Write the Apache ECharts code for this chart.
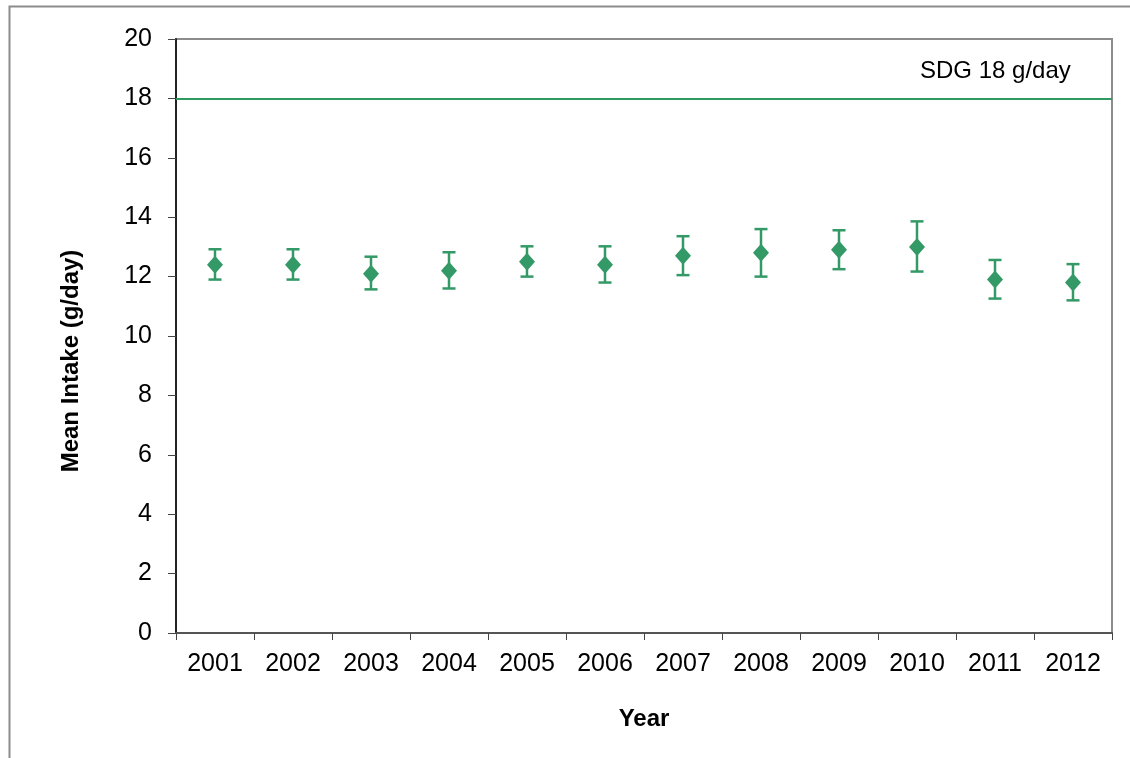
<!DOCTYPE html>
<html>
<head>
<meta charset="utf-8">
<script src="https://cdn.jsdelivr.net/npm/echarts@6/dist/echarts.min.js"></script>
<style>
html,body{margin:0;padding:0;background:#fff;}
#chart{width:1130px;height:758px;}
</style>
</head>
<body>
<div id="chart"></div>
<script>
const years = ['2001','2002','2003','2004','2005','2006','2007','2008','2009','2010','2011','2012'];
const meanIntake = [12.4, 12.4, 12.1, 12.2, 12.5, 12.4, 12.7, 12.8, 12.9, 13.0, 11.9, 11.8];
const lowerCI   = [11.9, 11.9, 11.57, 11.6, 12.0, 11.8, 12.05, 12.0, 12.25, 12.17, 11.26, 11.2];
const upperCI   = [12.92, 12.92, 12.67, 12.82, 13.02, 13.02, 13.36, 13.6, 13.56, 13.86, 12.56, 12.42];
const sdgValue = 18;
const sdgLabel = 'SDG 18 g/day';
const yTitle = 'Mean Intake (g/day)';
const xTitle = 'Year';
const yTicks = [0, 2, 4, 6, 8, 10, 12, 14, 16, 18, 20];

const green = '#339966';
const font = '"Liberation Sans", Arial, sans-serif';

const errData = years.map((y, i) => [i, lowerCI[i], upperCI[i]]);

const chart = echarts.init(document.getElementById('chart'), null, {renderer: 'canvas'});
chart.setOption({
  animation: false,
  backgroundColor: '#fff',
  grid: {left: 176, right: 18, top: 39, bottom: 125, show: true, borderColor: '#8c8c8c', borderWidth: 2, backgroundColor: 'transparent'},
  xAxis: {
    type: 'category',
    data: years,
    boundaryGap: true,
    name: xTitle,
    nameLocation: 'middle',
    nameGap: 74,
    nameTextStyle: {fontFamily: font, fontSize: 24, fontWeight: 'bold', color: '#000'},
    axisLine: {show: true, lineStyle: {color: '#555', width: 2}},
    axisTick: {show: true, length: 7, lineStyle: {color: '#444', width: 1}},
    axisLabel: {fontFamily: font, fontSize: 25, color: '#000', margin: 19, interval: 0},
    splitLine: {show: false}
  },
  yAxis: {
    type: 'value',
    min: 0, max: 20, interval: 2,
    axisLine: {show: true, lineStyle: {color: '#222', width: 2}},
    axisTick: {show: true, length: 8, lineStyle: {color: '#444', width: 1}},
    axisLabel: {fontFamily: font, fontSize: 25, color: '#000', margin: 24,
      formatter: v => yTicks.includes(v) ? String(v) : ''},
    splitLine: {show: false}
  },
  graphic: [
    {type: 'rect', left: 7, top: 4, shape: {width: 1200, height: 800},
     style: {fill: 'none', stroke: '#8c8c8c', lineWidth: 2}, silent: true, z: 0},
    {type: 'text', left: 920, top: 59,
     style: {text: sdgLabel, font: '24px "Liberation Sans", Arial, sans-serif', fill: '#000'}},
    {type: 'text', x: 71, y: 361, rotation: Math.PI / 2,
     style: {text: yTitle, font: 'bold 24px "Liberation Sans", Arial, sans-serif', fill: '#000',
             align: 'center', verticalAlign: 'middle'}}
  ],
  series: [
    {
      type: 'custom',
      name: 'CI',
      data: errData,
      z: 3,
      renderItem: function (params, api) {
        const x = api.value(0);
        const lo = api.coord([x, api.value(1)]);
        const hi = api.coord([x, api.value(2)]);
        const hw = 6.5;
        const st = {stroke: green, lineWidth: 2.5};
        return {
          type: 'group',
          children: [
            {type: 'line', shape: {x1: lo[0], y1: lo[1], x2: hi[0], y2: hi[1]}, style: st},
            {type: 'line', shape: {x1: lo[0]-hw, y1: lo[1], x2: lo[0]+hw, y2: lo[1]}, style: st},
            {type: 'line', shape: {x1: hi[0]-hw, y1: hi[1], x2: hi[0]+hw, y2: hi[1]}, style: st}
          ]
        };
      }
    },
    {
      type: 'scatter',
      name: 'Mean',
      data: meanIntake,
      symbol: 'diamond',
      symbolSize: [16, 18],
      itemStyle: {color: green, opacity: 1},
      z: 4,
      markLine: {
        silent: true,
        symbol: 'none',
        label: {show: false},
        lineStyle: {color: '#2e9a62', width: 2, type: 'solid'},
        data: [{yAxis: sdgValue}]
      }
    }
  ]
});
</script>
</body>
</html>
